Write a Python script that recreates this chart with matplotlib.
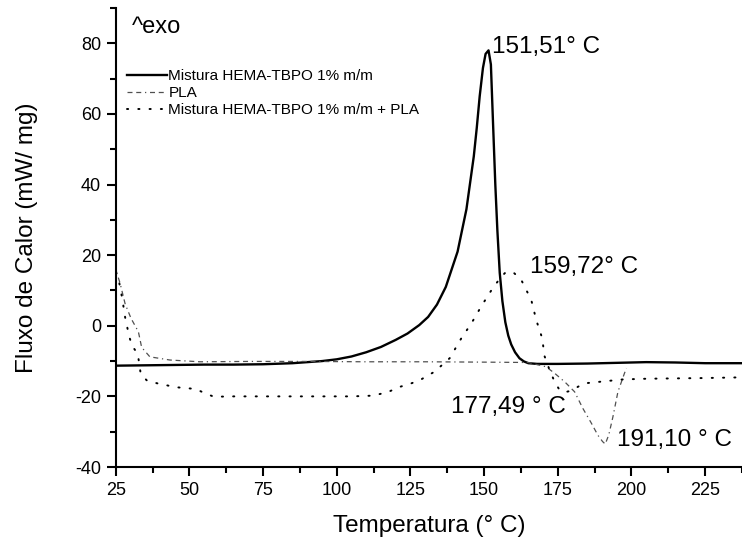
import matplotlib
matplotlib.use("Agg")
import matplotlib.pyplot as plt
from matplotlib.ticker import MultipleLocator

plt.rcParams['font.family'] = ['Liberation Sans', 'DejaVu Sans']
plt.rcParams['axes.unicode_minus'] = False

# HEMA-TBPO 1% m/m (linha cheia)
hema_T = [25, 35, 45, 55, 65, 75, 85, 95, 100, 105, 110, 115, 120, 124, 128, 131,
          134, 137, 139, 141, 142.5, 144, 145.5, 146.5, 147.5, 148.5, 149.6, 150.5,
          151.5, 152.3, 153, 153.8, 154.5, 155.3, 156.2, 157.2, 158.2, 159.2, 160.5,
          162, 163.5, 165, 168, 175, 185, 195, 205, 215, 225, 238]
hema_V = [-11.3, -11.2, -11.1, -11.0, -11.0, -10.9, -10.6, -10.0, -9.5, -8.7, -7.5,
          -6.0, -4.0, -2.2, 0.2, 2.5, 6.0, 11.0, 16.0, 21.0, 27.0, 33.0, 42.0, 48.0,
          56.0, 65.0, 73.0, 77.0, 78.0, 74.0, 58.0, 40.0, 27.0, 15.0, 7.0, 1.0, -2.8,
          -5.3, -7.5, -9.2, -10.1, -10.6, -10.8, -10.8, -10.7, -10.5, -10.3, -10.4,
          -10.6, -10.6]

# PLA (tracejado)
pla_T = [25, 26.5, 28.2, 30.2, 32.7, 33.8, 36.6, 43.4, 53.6, 70, 90, 110, 130, 150,
         165, 171, 174, 177.5, 180.7, 183.5, 186.4, 188.6, 190.2, 191.1, 192.3, 193.7,
         195.4, 197.6, 198.3]
pla_V = [16, 12, 6.2, 2.1, -1.7, -6.1, -8.8, -9.7, -10.2, -10.1, -10.1, -10.2, -10.2,
         -10.3, -10.4, -11.6, -13.5, -16, -18.7, -23.4, -27.6, -31, -32.8, -33.5,
         -30.9, -25.8, -18.7, -13.5, -12]

# Mistura + PLA (pontilhado)
mix_T = [25, 25.9, 27.2, 28.2, 29.6, 30.6, 32.5, 33.5, 35.7, 39.1, 45.4, 52.1, 55,
         58.3, 65, 75, 85, 95, 105, 112, 117, 121.4, 125, 128.2, 133.2, 138.3, 142.3,
         145.7, 149.1, 152.5, 155, 157, 159.7, 162.6, 166, 167.7, 169.7, 170.5, 172.2,
         173.9, 175.6, 177.5, 179.5, 182, 184.1, 190, 197, 205, 215, 225, 238]
mix_V = [15, 13.5, 7.8, 2.4, -3.1, -5.7, -8.0, -13.7, -15.6, -16.3, -17.4, -17.9,
         -19.0, -20.1, -20, -20, -20, -20, -20, -19.8, -18.9, -17.3, -16.4, -15.4,
         -13.0, -9.2, -3.5, 0.7, 5.6, 10.1, 13, 14.9, 15.3, 13.0, 7.3, 1.6, -3.5, -8.6,
         -12.5, -15.8, -18.2, -18.8, -18.4, -17.2, -16.3, -15.8, -15.2, -15, -14.9,
         -14.8, -14.6]

# picos anotados: (texto, T, V)
picos = [("151,51° C", 152.8, 79.0),
         ("159,72° C", 165.4, 16.7),
         ("177,49 ° C", 138.9, -22.9),
         ("191,10 ° C", 195.0, -32.4)]

fig = plt.figure(figsize=(7.42, 5.49), dpi=100)
ax = fig.add_axes([115.7 / 742, 82 / 549, (742 - 115.7) / 742, (467 - 8) / 549])

ax.plot(hema_T, hema_V, color='black', lw=1.7, label='Mistura HEMA-TBPO 1% m/m')
ax.plot(pla_T, pla_V, color='#505050', lw=0.9, dashes=(4, 3, 4, 3, 1, 3), label='PLA')
ax.plot(mix_T, mix_V, color='black', lw=1.4, dashes=(0.6, 5.2), dash_capstyle='round',
        label='Mistura HEMA-TBPO 1% m/m + PLA')

for txt, t, v in picos:
    ax.text(t, v, txt, fontsize=17.5, va='center', ha='left')

ax.text(131.7 / 742, 1 - 26.7 / 549, "^exo", fontsize=17, va='center', ha='left',
        transform=fig.transFigure)

ax.set_xlim(25, 237.5)
ax.set_ylim(-40, 90)
ax.xaxis.set_major_locator(MultipleLocator(25))
ax.xaxis.set_minor_locator(MultipleLocator(12.5))
ax.yaxis.set_minor_locator(MultipleLocator(10))
ax.set_yticks(range(-40, 81, 20))

for s in ['top', 'right']:
    ax.spines[s].set_visible(False)
for s in ['left', 'bottom']:
    ax.spines[s].set_linewidth(1.5)
ax.tick_params(which='major', direction='out', length=6.5, width=1.5, labelsize=13, pad=4)
ax.tick_params(which='minor', direction='out', length=4, width=1.5)

ax.set_xlabel("Temperatura (° C)", fontsize=17.5, labelpad=12)
ax.set_ylabel("Fluxo de Calor (mW/ mg)", fontsize=17.5, labelpad=27)

ax.legend(loc='upper left', bbox_to_anchor=(127 / 742, 1 - 69 / 549),
          bbox_transform=fig.transFigure, frameon=False, fontsize=11,
          handlelength=2.6, handletextpad=0.1, labelspacing=0.2, borderpad=0,
          borderaxespad=0)

fig.savefig("out.png", dpi=100)
